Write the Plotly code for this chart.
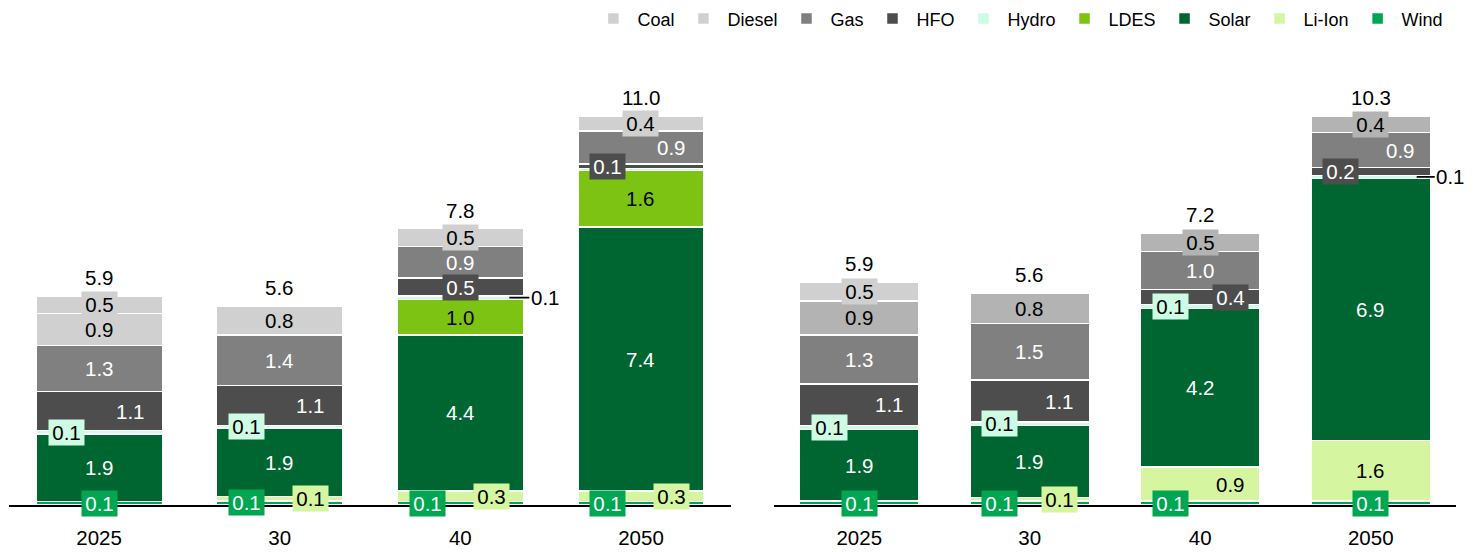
import plotly.graph_objects as go

# ---------------- data ----------------
categories = ["2025", "30", "40", "2050"]
series_names = ["Wind", "Li-Ion", "Solar", "LDES", "Hydro", "HFO", "Gas", "Diesel", "Coal"]  # bottom -> top

left_wind   = [0.10, 0.12, 0.10, 0.10]
left_liion  = [0.00, 0.12, 0.30, 0.30]
left_solar  = [1.90, 1.93, 4.40, 7.44]
left_ldes   = [0.00, 0.00, 1.00, 1.60]
left_hydro  = [0.10, 0.08, 0.10, 0.06]
left_hfo    = [1.10, 1.12, 0.50, 0.12]
left_gas    = [1.30, 1.43, 0.90, 0.93]
left_diesel = [0.90, 0.82, 0.50, 0.43]
left_coal   = [0.50, 0.00, 0.00, 0.00]
left_totals = [5.9, 5.6, 7.8, 11.0]

right_wind   = [0.10, 0.10, 0.10, 0.10]
right_liion  = [0.00, 0.10, 0.90, 1.60]
right_solar  = [1.90, 1.90, 4.20, 6.94]
right_ldes   = [0.00, 0.00, 0.00, 0.00]
right_hydro  = [0.10, 0.10, 0.10, 0.08]
right_hfo    = [1.10, 1.10, 0.40, 0.20]
right_gas    = [1.30, 1.50, 1.00, 0.93]
right_diesel = [0.90, 0.80, 0.50, 0.44]
right_coal   = [0.50, 0.00, 0.00, 0.00]
right_totals = [5.9, 5.6, 7.2, 10.3]

# ---------------- styles ----------------
FONT = "Liberation Sans, Arial, Helvetica, sans-serif"
FS = 20.5
colors = {
    "Coal": "#d0d0d0", "Diesel": "#d0d0d0", "Gas": "#808080", "HFO": "#4d4d4d",
    "Hydro": "#cdfbe3", "LDES": "#7dc313", "Solar": "#006631", "Li-Ion": "#d5f5a0",
    "Wind": "#00a651",
}
right_colors = dict(colors, Diesel="#b3b3b3")
white_text = {"Wind", "Solar", "Gas", "HFO"}

# label modes: c = centre, r = right, cb/lb/rb = boxed centre/left/right, out = leader line
label_modes = {
    "left": {
        "Wind":   ["cb", "lb", "lb", "lb"],
        "Li-Ion": [None, "rb", "rb", "rb"],
        "Solar":  ["c", "c", "c", "c"],
        "LDES":   [None, None, "c", "c"],
        "Hydro":  ["lb", "lb", "out", None],
        "HFO":    ["r", "r", "cb", "lb"],
        "Gas":    ["c", "c", "c", "r"],
        "Diesel": ["c", "c", "cb", "cb"],
        "Coal":   ["cb", None, None, None],
    },
    "right": {
        "Wind":   ["cb", "lb", "lb", "cb"],
        "Li-Ion": [None, "rb", "r", "c"],
        "Solar":  ["c", "c", "c", "c"],
        "LDES":   [None, None, None, None],
        "Hydro":  ["lb", "lb", "lb", "out"],
        "HFO":    ["r", "r", "rb", "lb"],
        "Gas":    ["c", "c", "c", "r"],
        "Diesel": ["c", "c", "cb", "cb"],
        "Coal":   ["cb", None, None, None],
    },
}
offsets = {"left": {"l": -33, "r": 31, "tip": 49, "ax": 36},
           "right": {"l": -30, "r": 30, "tip": 46, "ax": 34}}

panels = {
    "left": dict(xa="x", ya="y", cols=colors, totals=left_totals, data={
        "Wind": left_wind, "Li-Ion": left_liion, "Solar": left_solar, "LDES": left_ldes,
        "Hydro": left_hydro, "HFO": left_hfo, "Gas": left_gas, "Diesel": left_diesel,
        "Coal": left_coal}),
    "right": dict(xa="x2", ya="y2", cols=right_colors, totals=right_totals, data={
        "Wind": right_wind, "Li-Ion": right_liion, "Solar": right_solar, "LDES": right_ldes,
        "Hydro": right_hydro, "HFO": right_hfo, "Gas": right_gas, "Diesel": right_diesel,
        "Coal": right_coal}),
}

xpos = list(range(len(categories)))

fig = go.Figure()
annotations = []
stack_max = {}

for pname, p in panels.items():
    base = [0.0] * len(categories)
    for s in series_names:
        vals = p["data"][s]
        fig.add_trace(go.Bar(
            x=xpos, y=[v if v > 0 else None for v in vals], name=s,
            xaxis=p["xa"], yaxis=p["ya"], width=0.7,
            marker=dict(color=p["cols"][s], line=dict(color="white", width=1.5)),
            showlegend=(pname == "left"), legendgroup=s, hoverinfo="skip",
        ))
        for i, v in enumerate(vals):
            mode = label_modes[pname][s][i]
            if v > 0 and mode:
                mid = base[i] + v / 2
                tcol = "white" if s in white_text else "black"
                shift = 0
                if mode.startswith("l"):
                    shift = offsets[pname]["l"]
                elif mode.startswith("r"):
                    shift = offsets[pname]["r"]
                ann = dict(x=xpos[i], y=mid, xref=p["xa"], yref=p["ya"],
                           text=f"{v:.1f}", font=dict(family=FONT, size=FS, color=tcol),
                           showarrow=False, xshift=shift, borderpad=1)
                if mode.endswith("b"):
                    ann.update(bgcolor=p["cols"][s], width=35, height=25, borderpad=0,
                               align="center", valign="middle")
                if mode == "out":
                    ann.update(showarrow=True, arrowhead=0, arrowwidth=1.8, arrowcolor="black",
                               ax=offsets[pname]["ax"], ay=0, xshift=offsets[pname]["tip"],
                               font=dict(family=FONT, size=FS, color="black"))
                annotations.append(ann)
            base[i] += v
    for i, t in enumerate(p["totals"]):
        annotations.append(dict(x=xpos[i], y=base[i], xref=p["xa"], yref=p["ya"],
                                text=f"{t:.1f}", showarrow=False, yanchor="bottom", yshift=5,
                                font=dict(family=FONT, size=FS, color="black")))
    stack_max[pname] = max(base)

PLOT_H = 552 - 95 - 47
scale = PLOT_H / 391.0

axis_common = dict(range=[-0.5, len(categories) - 0.5], tickmode="array", tickvals=xpos,
                   ticktext=categories, showgrid=False, zeroline=False, ticks="",
                   ticklabelstandoff=13,
                   showline=True, linecolor="black", linewidth=2,
                   tickfont=dict(family=FONT, size=FS, color="black"), fixedrange=True)
yaxis_common = dict(showgrid=False, zeroline=False, showticklabels=False, showline=False,
                    ticks="", fixedrange=True)

fig.update_layout(
    width=1481, height=552,
    margin=dict(l=0, r=0, t=95, b=47),
    barmode="stack",
    plot_bgcolor="white", paper_bgcolor="white",
    font=dict(family=FONT, size=FS, color="black"),
    xaxis=dict(domain=[0.00587, 0.4938], anchor="y", **axis_common),
    xaxis2=dict(domain=[0.5226, 0.9831], anchor="y2", **axis_common),
    yaxis=dict(range=[0, stack_max["left"] * scale], anchor="x", **yaxis_common),
    yaxis2=dict(range=[0, stack_max["right"] * scale], anchor="x2", **yaxis_common),
    legend=dict(orientation="h", x=0.978, xanchor="right", y=1.237, yanchor="top",
                traceorder="reversed", itemwidth=38,
                font=dict(family=FONT, size=18, color="black"), bgcolor="rgba(0,0,0,0)"),
    annotations=annotations,
)

fig.write_html("out.html", config={"displayModeBar": False},
               post_script="document.body.style.margin='0';document.body.style.overflow='hidden';")
